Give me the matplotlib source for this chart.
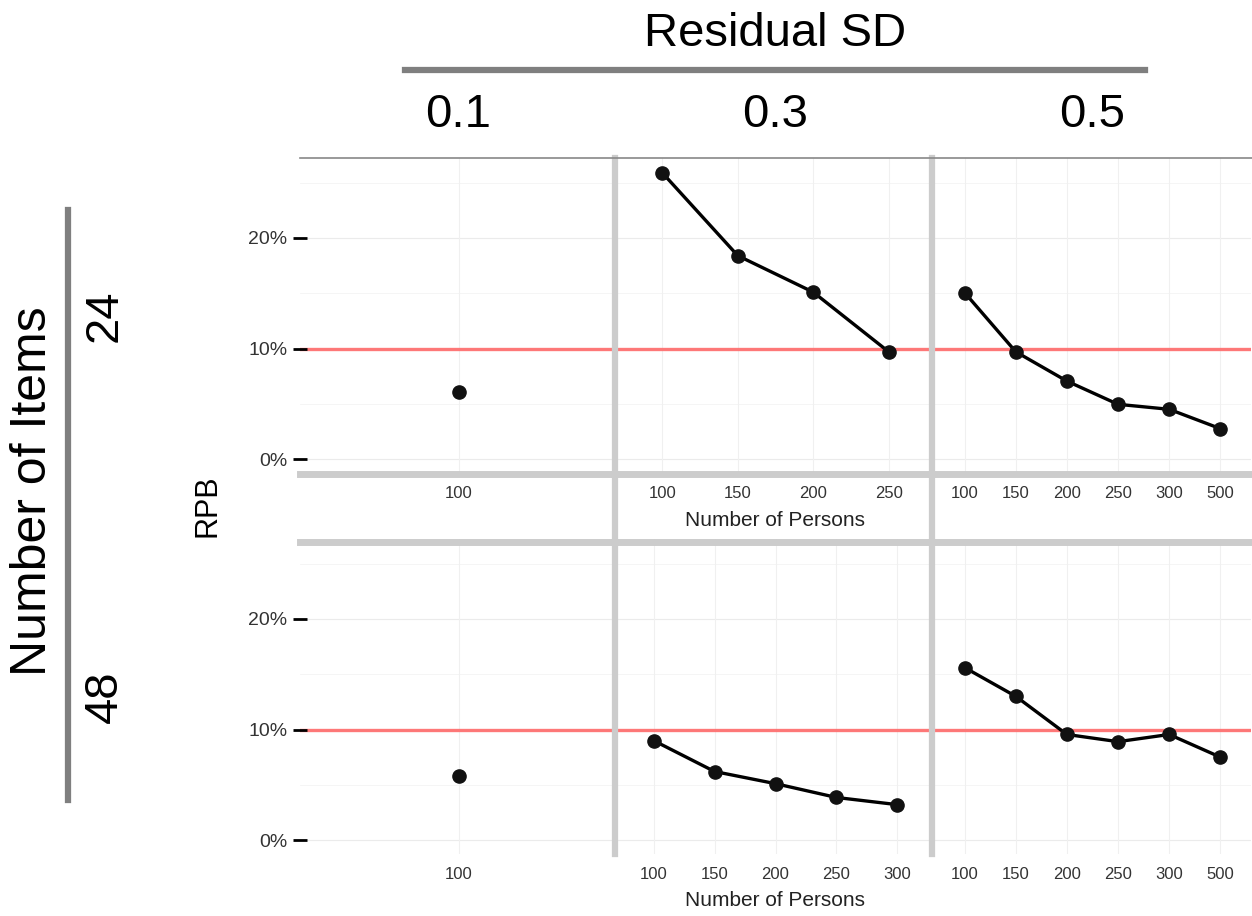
"""Relative parameter bias (RPB) by number of persons, faceted by
residual SD (columns) and number of items (rows)."""
import matplotlib
matplotlib.use("Agg")
import matplotlib.pyplot as plt
from matplotlib.lines import Line2D
from matplotlib.ticker import FuncFormatter

plt.rcParams.update({
    "font.family": ["Liberation Sans", "DejaVu Sans"],
})

W, H = 1252, 916

# facet levels
residual_sd = ["0.1", "0.3", "0.5"]
n_items = ["24", "48"]

# x categories (number of persons) per panel, RPB values in percent
persons = {
    ("24", "0.1"): [100],
    ("24", "0.3"): [100, 150, 200, 250],
    ("24", "0.5"): [100, 150, 200, 250, 300, 500],
    ("48", "0.1"): [100],
    ("48", "0.3"): [100, 150, 200, 250, 300],
    ("48", "0.5"): [100, 150, 200, 250, 300, 500],
}
rpb = {
    ("24", "0.1"): [6.1],
    ("24", "0.3"): [25.9, 18.4, 15.1, 9.7],
    ("24", "0.5"): [15.05, 9.7, 7.05, 4.95, 4.5, 2.75],
    ("48", "0.1"): [5.8],
    ("48", "0.3"): [9.0, 6.2, 5.1, 3.85, 3.2],
    ("48", "0.5"): [15.6, 13.0, 9.55, 8.9, 9.55, 7.5],
}
threshold = 10
y_ticks = [0, 10, 20]
y_minor = [5, 15, 25]


def fx(px):
    return px / W


def fy(py):
    return 1 - py / H


fig = plt.figure(figsize=(W / 100, H / 100), dpi=100)
fig.patch.set_facecolor("white")

col_left = [300, 617, 934]
col_w = 317
row_top = [158.4, 539.4]
row_h = 315

for r, items in enumerate(n_items):
    for c, sd in enumerate(residual_sd):
        ax = fig.add_axes([fx(col_left[c]), fy(row_top[r] + row_h),
                           fx(col_w), row_h / H])
        xs = persons[(items, sd)]
        ys = rpb[(items, sd)]
        pos = list(range(len(xs)))
        ax.set_xlim(-0.6, len(xs) - 0.4)
        ax.set_ylim(-1.3, 27.2)
        for s in ax.spines.values():
            s.set_visible(False)
        # grid
        for v in y_ticks:
            ax.axhline(v, color="#ebebeb", lw=0.8, zorder=0)
        for v in y_minor:
            ax.axhline(v, color="#f4f4f4", lw=0.6, zorder=0)
        for p in pos:
            ax.axvline(p, color="#f0f0f0", lw=0.8, zorder=0)
        ax.axhline(threshold, color="#ff6a6a", lw=2.4, alpha=0.9, zorder=1)
        ax.plot(pos, ys, color="black", lw=2.4, zorder=2)
        ax.plot(pos, ys, "o", color="#111111", ms=9.5, zorder=3)
        ax.set_xticks(pos)
        ax.set_xticklabels([str(x) for x in xs], fontsize=12, color="#333333")
        ax.tick_params(axis="x", length=0, pad=9)
        if c == 0:
            ax.set_yticks(y_ticks)
            ax.yaxis.set_major_formatter(FuncFormatter(lambda v, _: f"{v:.0f}%"))
            ax.tick_params(axis="y", labelsize=14, labelcolor="#333333",
                           direction="inout", length=10, width=2, pad=4)
        else:
            ax.set_yticks([])
        ax.set_facecolor("none")

# panel separators
sep = "#cccccc"
fig.add_artist(Line2D([fx(300), fx(1252)], [fy(473.5), fy(473.5)],
                      color=sep, lw=5))
fig.add_artist(Line2D([fx(300), fx(1252)], [fy(541.5), fy(541.5)],
                      color=sep, lw=5))
for xv in (615, 932):
    fig.add_artist(Line2D([fx(xv), fx(xv)], [fy(158), fy(854)],
                          color=sep, lw=4.5))
fig.add_artist(Line2D([fx(300), fx(1252)], [fy(157.5), fy(157.5)],
                      color="#888888", lw=1.2))

# strip-like labels
fig.text(fx(775), fy(34), "Residual SD", fontsize=34, ha="center", va="center")
fig.add_artist(Line2D([fx(405), fx(1145)], [fy(70), fy(70)],
                      color="#7f7f7f", lw=4.5))
for c, sd in enumerate(residual_sd):
    fig.text(fx(col_left[c] + col_w / 2), fy(115), sd, fontsize=34,
             ha="center", va="center")

fig.text(fx(33), fy(491), "Number of Items", fontsize=36, rotation=90,
         ha="center", va="center")
fig.add_artist(Line2D([fx(68), fx(68)], [fy(210), fy(800)],
                      color="#7f7f7f", lw=4.5))
for r, items in enumerate(n_items):
    fig.text(fx(105), fy(row_top[r] + row_h / 2), items, fontsize=34,
             rotation=90, ha="center", va="center")

fig.text(fx(207), fy(506), "RPB", fontsize=22, rotation=90,
         ha="center", va="center")
fig.text(fx(775), fy(521), "Number of Persons", fontsize=15,
         ha="center", va="center", color="#222222")
fig.text(fx(775), fy(900), "Number of Persons", fontsize=15,
         ha="center", va="center", color="#222222")

fig.savefig("out.png", dpi=100)
